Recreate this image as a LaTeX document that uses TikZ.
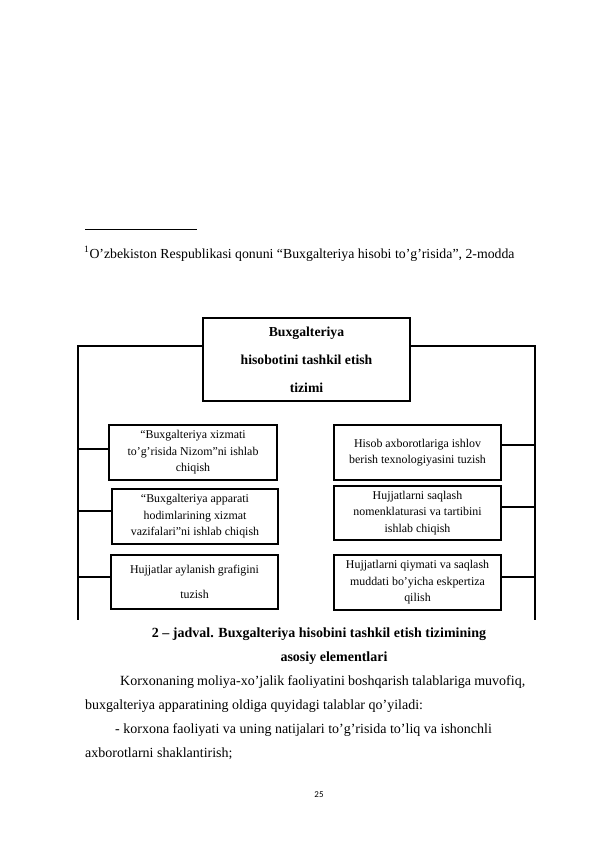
\documentclass[tikz,border=0pt]{standalone}
\usepackage{fontspec}
\setmainfont{Liberation Serif}
\newfontfamily\pgnumfont{Carlito}
\tikzset{
  box/.style={draw, line width=1.6pt, align=center, inner sep=1pt,
    font=\fontsize{11.9}{16.5}\selectfont},
  topbox/.style={draw, line width=1.6pt, align=center,
    font=\bfseries\fontsize{13.7}{28}\selectfont},
  frame/.style={line width=1.6pt},
  txt/.style={anchor=base west, inner sep=0pt, font=\fontsize{14}{16}\selectfont},
  captxt/.style={anchor=base, inner sep=0pt, font=\bfseries\fontsize{14}{16}\selectfont}
}
\begin{document}
\begin{tikzpicture}[x=1pt,y=-1pt]
\useasboundingbox (0,0) rectangle (595,842);
% footnote
\coordinate (fr1) at (85,229);
\coordinate (fr2) at (197,229);
\draw[line width=0.6pt] (fr1) -- (fr2);
\node[txt, font=\fontsize{13.8}{16}\selectfont] (fn) at (84,258) {\textsuperscript{1}O’zbekiston Respublikasi qonuni “Buxgalteriya hisobi to’g’risida”, 2-modda};
% top box
\node[topbox, minimum width=207, minimum height=83] (top) at (306.5,359.5)
  {Buxgalteriya\\hisobotini tashkil etish\\tizimi};
% left boxes
\node[box, minimum width=168, minimum height=55] (lb1) at (193,452.5)
  {“Buxgalteriya xizmati\\to’g’risida Nizom”ni ishlab\\chiqish};
\node[box, minimum width=166, minimum height=55] (lb2) at (195,516.5)
  {“Buxgalteriya apparati\\hodimlarining xizmat\\vazifalari”ni ishlab chiqish};
\node[box, minimum width=167, minimum height=54.5] (lb3) at (194.5,582)
  {Hujjatlar aylanish grafigini\\[8pt]tuzish};
% right boxes
\node[box, minimum width=167, minimum height=55] (rb1) at (417.5,452.5)
  {Hisob axborotlariga ishlov\\berish texnologiyasini tuzish};
\node[box, minimum width=167, minimum height=54] (rb2) at (417.5,513)
  {Hujjatlarni saqlash\\nomenklaturasi va tartibini\\ishlab chiqish};
\node[box, minimum width=167, minimum height=55] (rb3) at (417.5,582.5)
  {Hujjatlarni qiymati va saqlash\\muddati bo’yicha eskpertiza\\qilish};
% frame
\coordinate (Lb) at (78,620);
\coordinate (Rb) at (535,620);
\draw[frame] ([yshift=-29pt]top.north west) -| (Lb);
\draw[frame] ([yshift=-29pt]top.north east) -| (Rb);
\draw[frame] ([yshift=3.5pt]lb1.west) -- ([yshift=3.5pt]lb1.west -| Lb);
\draw[frame] ([yshift=5.5pt]lb2.west) -- ([yshift=5.5pt]lb2.west -| Lb);
\draw[frame] ([yshift=5.3pt]lb3.west) -- ([yshift=5.3pt]lb3.west -| Lb);
\draw[frame] ([yshift=7.5pt]rb1.east) -- ([yshift=7.5pt]rb1.east -| Rb);
\draw[frame] ([yshift=6pt]rb2.east) -- ([yshift=6pt]rb2.east -| Rb);
\draw[frame] ([yshift=5.8pt]rb3.east) -- ([yshift=5.8pt]rb3.east -| Rb);
% caption
\node[captxt] (cap1) at (319,637) {2 – jadval. Buxgalteriya hisobini tashkil etish tizimining};
\node[captxt] (cap2) at (334,661) {asosiy elementlari};
% body
\node[txt] (b1) at (120,685) {\makebox[405pt][s]{Korxonaning moliya-xo’jalik faoliyatini boshqarish talablariga muvofiq,}};
\node[txt] (b2) at (85,709) {buxgalteriya apparatining oldiga quyidagi talablar qo’yiladi:};
\node[txt] (b3) at (115,733) {- korxona faoliyati va uning natijalari to’g’risida to’liq va ishonchli};
\node[txt] (b4) at (85,757) {axborotlarni shaklantirish;};
% page number
\node[anchor=base, inner sep=0pt, font=\pgnumfont\fontsize{9}{11}\selectfont] (pg) at (319,797) {25};
\end{tikzpicture}
\end{document}
